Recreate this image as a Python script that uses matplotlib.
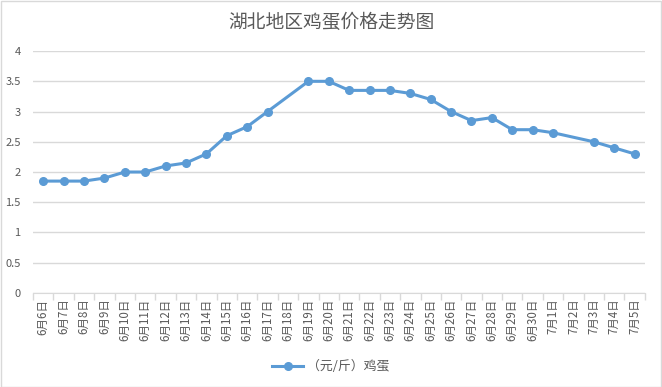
import numpy as np
import matplotlib
matplotlib.use("Agg")
import matplotlib.pyplot as plt
from matplotlib.patches import Rectangle

plt.rcParams['font.family'] = ['Noto Sans CJK SC', 'DejaVu Sans']

days = ['6月%d日' % d for d in range(6, 31)] + ['7月%d日' % d for d in range(1, 6)]
prices = [1.85, 1.85, 1.85, 1.9, 2.0, 2.0, 2.1, 2.15, 2.3, 2.6, 2.75, 3.0, np.nan,
          3.5, 3.5, 3.35, 3.35, 3.35, 3.3, 3.2, 3.0, 2.85, 2.9, 2.7, 2.7, 2.65,
          np.nan, 2.5, 2.4, 2.3]
yticks = [0, 0.5, 1, 1.5, 2, 2.5, 3, 3.5, 4]
yticklabels = ['0', '0.5', '1', '1.5', '2', '2.5', '3', '3.5', '4']

txt = '#595959'
grid = '#D9D9D9'
blue = '#5B9BD5'

fig = plt.figure(figsize=(6.62, 3.87), dpi=100)
fig.patches.append(Rectangle((0.001, 0.001), 0.997, 0.996, transform=fig.transFigure,
                             fill=False, edgecolor=grid, linewidth=1))
ax = fig.add_axes([0.05, 0.243, 0.924, 0.625])

x = np.arange(len(days))
y = np.array(prices)
ok = ~np.isnan(y)
ax.plot(x[ok], y[ok], color=blue, linewidth=2.2, marker='o', markersize=5.5,
        label='（元/斤）鸡蛋', zorder=3)

ax.set_xlim(-0.5, len(days) - 0.5)
ax.set_ylim(0, 4)
ax.set_yticks(yticks)
ax.set_yticklabels(yticklabels)
ax.yaxis.grid(True, color=grid, linewidth=1)
ax.set_axisbelow(True)
ax.set_xticks(x)
ax.set_xticklabels(days, rotation=90)
ax.set_xticks(np.arange(len(days) + 1) - 0.5, minor=True)
ax.tick_params(axis='x', which='major', length=0, pad=4, labelsize=8.3, labelcolor=txt)
ax.tick_params(axis='x', which='minor', length=5, color=grid, width=1)
ax.tick_params(axis='y', length=0, pad=9, labelsize=8, labelcolor=txt)
for s in ['left', 'right', 'top']:
    ax.spines[s].set_visible(False)
ax.spines['bottom'].set_color(grid)

fig.text(0.5, 0.943, '湖北地区鸡蛋价格走势图', ha='center', va='center',
         fontsize=13.5, color=txt)
fig.legend(loc='center', bbox_to_anchor=(0.5, 0.052), frameon=False,
           fontsize=9.3, labelcolor=txt, handlelength=2.4, handletextpad=0.3)

fig.savefig('out.png', dpi=100)
